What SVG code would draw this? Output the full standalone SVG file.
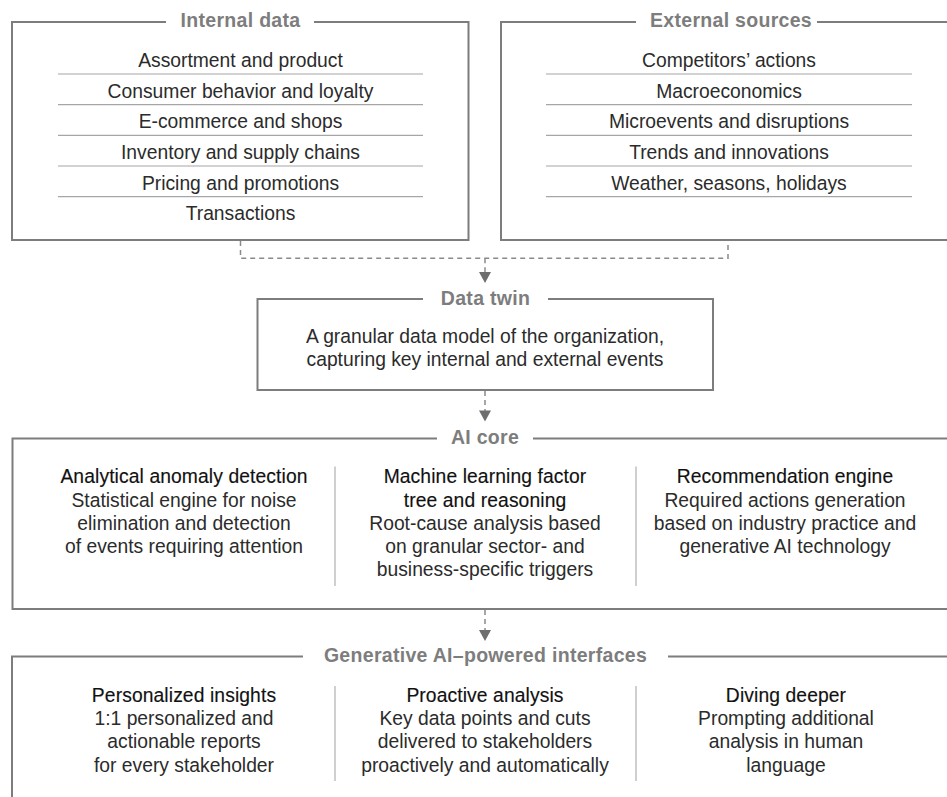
<svg xmlns="http://www.w3.org/2000/svg" width="947" height="797" viewBox="0 0 947 797">
<style>
.box{fill:none;stroke:#7d7d7d;stroke-width:2}
.sep{stroke:#a6a6a6;stroke-width:1.2}
.div{stroke:#b5b5b5;stroke-width:1.3}
.ttl{font-family:"Liberation Sans",Arial,sans-serif;font-size:19.5px;font-weight:bold;fill:#7d7d7d;text-anchor:middle;letter-spacing:0.3px}
.txt{font-family:"Liberation Sans",Arial,sans-serif;font-size:19.3px;fill:#2b2b2b;text-anchor:middle}
.hd{font-family:"Liberation Sans",Arial,sans-serif;font-size:19.3px;fill:#111111;stroke:#111111;stroke-width:0.15;text-anchor:middle;letter-spacing:0.1px}
.dash{fill:none;stroke:#8a8a8a;stroke-width:1.5;stroke-dasharray:5 4}
.arr{fill:#6e6e6e}
</style>
<rect width="947" height="797" fill="#ffffff"/>

<g id="internal-data">
<path class="box" d="M166,22 H12 V240 H468.5 V22 H314"/>
<text class="ttl" x="240.5" y="27">Internal data</text>
<text class="txt" x="240.5" y="67">Assortment and product</text>
<line class="sep" x1="58" y1="74" x2="423" y2="74"/>
<text class="txt" x="240.5" y="97.7">Consumer behavior and loyalty</text>
<line class="sep" x1="58" y1="104.7" x2="423" y2="104.7"/>
<text class="txt" x="240.5" y="128.3">E-commerce and shops</text>
<line class="sep" x1="58" y1="135.3" x2="423" y2="135.3"/>
<text class="txt" x="240.5" y="159">Inventory and supply chains</text>
<line class="sep" x1="58" y1="166" x2="423" y2="166"/>
<text class="txt" x="240.5" y="189.7">Pricing and promotions</text>
<line class="sep" x1="58" y1="196.7" x2="423" y2="196.7"/>
<text class="txt" x="240.5" y="220.3">Transactions</text>
</g>

<g id="external-sources">
<path class="box" d="M636,22 H501 V240 H960 M960,22 H817"/>
<text class="ttl" x="731" y="27">External sources</text>
<text class="txt" x="729" y="67">Competitors’ actions</text>
<line class="sep" x1="546" y1="74" x2="912" y2="74"/>
<text class="txt" x="729" y="97.7">Macroeconomics</text>
<line class="sep" x1="546" y1="104.7" x2="912" y2="104.7"/>
<text class="txt" x="729" y="128.3">Microevents and disruptions</text>
<line class="sep" x1="546" y1="135.3" x2="912" y2="135.3"/>
<text class="txt" x="729" y="159">Trends and innovations</text>
<line class="sep" x1="546" y1="166" x2="912" y2="166"/>
<text class="txt" x="729" y="189.7">Weather, seasons, holidays</text>
<line class="sep" x1="546" y1="196.7" x2="912" y2="196.7"/>
</g>

<g id="data-twin">
<path class="box" d="M423,299 H257.5 V390 H713 V299 H548"/>
<text class="ttl" x="485.5" y="304.5">Data twin</text>
<text class="txt" x="485" y="342.7">A granular data model of the organization,</text>
<text class="txt" x="485" y="366">capturing key internal and external events</text>
</g>

<g id="ai-core">
<path class="box" d="M437,438.5 H12.5 V609 H960 M960,438.5 H533"/>
<text class="ttl" x="485" y="443.5">AI core</text>
<line class="div" x1="335" y1="466.5" x2="335" y2="586"/>
<line class="div" x1="636" y1="466.5" x2="636" y2="586"/>
<text class="hd" x="184" y="483.3">Analytical anomaly detection</text>
<text class="txt" x="184" y="506.5">Statistical engine for noise</text>
<text class="txt" x="184" y="529.7">elimination and detection</text>
<text class="txt" x="184" y="552.9">of events requiring attention</text>
<text class="hd" x="485" y="483.3">Machine learning factor</text>
<text class="hd" x="485" y="506.5">tree and reasoning</text>
<text class="txt" x="485" y="529.7">Root-cause analysis based</text>
<text class="txt" x="485" y="552.9">on granular sector- and</text>
<text class="txt" x="485" y="576.1">business-specific triggers</text>
<text class="hd" x="785" y="483.3">Recommendation engine</text>
<text class="txt" x="785" y="506.5">Required actions generation</text>
<text class="txt" x="785" y="529.7">based on industry practice and</text>
<text class="txt" x="785" y="552.9">generative AI technology</text>
</g>

<g id="genai-interfaces">
<path class="box" d="M303,656.5 H12 V800 M960,656.5 H668"/>
<text class="ttl" x="485.5" y="662">Generative AI–powered interfaces</text>
<line class="div" x1="335" y1="686" x2="335" y2="781"/>
<line class="div" x1="636" y1="686" x2="636" y2="781"/>
<text class="hd" x="184" y="701.7">Personalized insights</text>
<text class="txt" x="184" y="725">1:1 personalized and</text>
<text class="txt" x="184" y="748.3">actionable reports</text>
<text class="txt" x="184" y="771.6">for every stakeholder</text>
<text class="hd" x="485" y="701.7">Proactive analysis</text>
<text class="txt" x="485" y="725">Key data points and cuts</text>
<text class="txt" x="485" y="748.3">delivered to stakeholders</text>
<text class="txt" x="485" y="771.6">proactively and automatically</text>
<text class="hd" x="786" y="701.7">Diving deeper</text>
<text class="txt" x="786" y="725">Prompting additional</text>
<text class="txt" x="786" y="748.3">analysis in human</text>
<text class="txt" x="786" y="771.6">language</text>
</g>

<g id="connectors">
<path class="dash" d="M240.5,241 V258.3 H728 V241"/>
<path class="dash" d="M485,258.3 V272"/>
<polygon class="arr" points="479,272 491,272 485,283"/>
<path class="dash" d="M485,391 V411"/>
<polygon class="arr" points="479,410.5 491,410.5 485,421.5"/>
<path class="dash" d="M485,610 V630"/>
<polygon class="arr" points="479,630 491,630 485,641"/>
</g>
</svg>
